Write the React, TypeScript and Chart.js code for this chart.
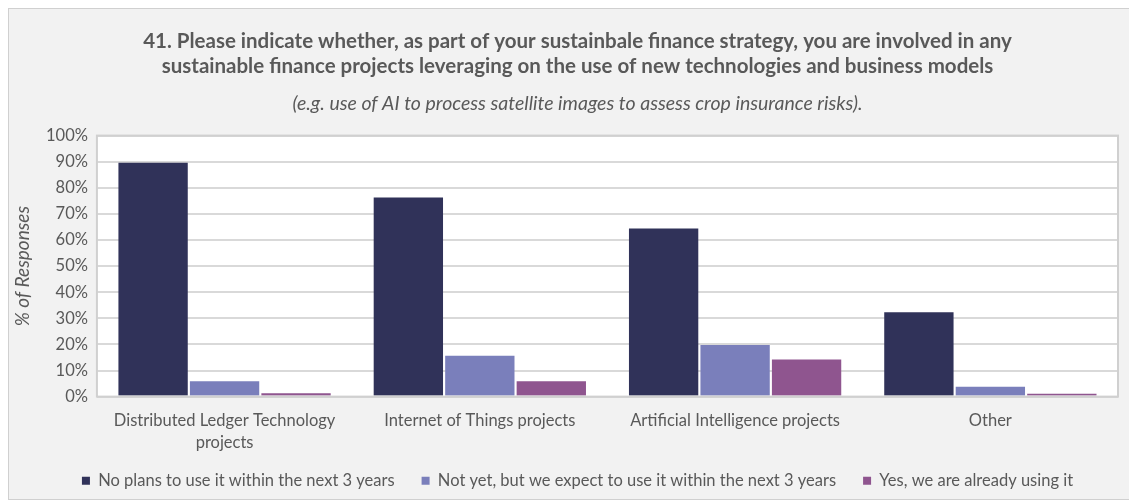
import React, { useEffect, useRef } from "react";
import { Chart, registerables } from "chart.js";
Chart.register(...registerables);

const categories: (string | string[])[] = [
  ["Distributed Ledger Technology", "projects"],
  "Internet of Things projects",
  "Artificial Intelligence projects",
  "Other",
];
const seriesNames = [
  "No plans to use it within the next 3 years",
  "Not yet, but we expect to use it within the next 3 years",
  "Yes, we are already using it",
];
const noPlans = [89.6, 76.3, 64.4, 32.3];
const notYet = [5.9, 15.7, 19.8, 3.8];
const alreadyUsing = [1.3, 5.9, 14.2, 1.1];
const seriesColors = ["#303259", "#7a7fbb", "#8f558f"];
const titleLines = [
  "41. Please indicate whether, as part of your sustainbale finance strategy, you are involved in any",
  "sustainable finance projects leveraging on the use of new technologies and business models",
];
const subtitleText = "(e.g. use of AI to process satellite images to assess crop insurance risks).";
const yTitle = "% of Responses";

const FONT = "Lato, 'Open Sans', sans-serif";
const TEXT = "#595959";

const plotBg = {
  id: "plotBg",
  beforeDraw(chart: any) {
    const { ctx, chartArea: a } = chart;
    // let the two-line category label spill below the (shortened) x axis box
    if (chart.scales.x) chart.scales.x._computeLabelArea = () => undefined;
    ctx.save();
    ctx.fillStyle = "#ffffff";
    ctx.fillRect(a.left, a.top, a.right - a.left, a.bottom - a.top);
    ctx.restore();
  },
  afterDraw(chart: any) {
    const { ctx, chartArea: a } = chart;
    ctx.save();
    ctx.strokeStyle = "#d0d0d0";
    ctx.lineWidth = 2;
    ctx.strokeRect(a.left, a.top, a.right - a.left, a.bottom - a.top);
    // y axis title, placed in the left margin
    ctx.translate(14, (a.top + a.bottom) / 2);
    ctx.rotate(-Math.PI / 2);
    ctx.fillStyle = TEXT;
    ctx.font = `italic 19px ${FONT}`;
    ctx.textAlign = "center";
    ctx.textBaseline = "middle";
    ctx.fillText(yTitle, 0, 0);
    ctx.restore();
  },
};

export default function App() {
  const ref = useRef<HTMLCanvasElement>(null);
  useEffect(() => {
    document.body.style.overflow = "hidden";
    if (!ref.current) return;
    const data = [noPlans, notYet, alreadyUsing];
    const chart = new Chart(ref.current, {
      type: "bar",
      data: {
        labels: categories,
        datasets: data.map((d, i) => ({
          label: seriesNames[i],
          data: d,
          backgroundColor: seriesColors[i],
          borderWidth: 0,
          categoryPercentage: 0.84,
          barPercentage: 0.97,
        })),
      },
      plugins: [plotBg],
      options: {
        animation: false,
        responsive: true,
        maintainAspectRatio: false,
        layout: { padding: { left: 28, right: 33, top: 0, bottom: 0 } },
        plugins: {
          title: {
            display: true,
            text: titleLines,
            color: TEXT,
            font: { family: FONT, size: 20.5, weight: "bold" },
            lineHeight: 1.4,
            padding: { top: 20, bottom: 14 },
          },
          subtitle: {
            display: true,
            text: subtitleText,
            color: TEXT,
            font: { family: FONT, size: 19.5, style: "italic" },
            padding: { bottom: 20 },
          },
          legend: {
            position: "bottom",
            labels: {
              color: TEXT,
              font: { family: FONT, size: 16.5 },
              boxWidth: 8,
              boxHeight: 8,
              padding: 27,
            },
          },
          tooltip: { enabled: false },
        },
        scales: {
          x: {
            grid: { display: false },
            border: { display: false },
            ticks: {
              color: TEXT,
              font: { family: FONT, size: 16.5, lineHeight: 1.33 },
              maxRotation: 0,
              padding: 5,
            },
            afterFit: (scale: any) => {
              scale.height -= 13;
            },
          },
          y: {
            min: 0,
            max: 100,
            ticks: {
              stepSize: 10,
              color: TEXT,
              font: { family: FONT, size: 16.5 },
              callback: (v: any) => v + "%",
              padding: 9,
            },
            grid: { color: "#d9d9d9", lineWidth: 2, drawTicks: false },
            border: { display: false },
          },
        },
      },
    } as any);
    return () => chart.destroy();
  }, []);
  return (
    <div
      style={{
        width: 1144,
        height: 492,
        background: "#f2f2f2",
        border: "1px solid #d0d0d0",
        boxSizing: "border-box",
      }}
    >
      <canvas ref={ref} />
    </div>
  );
}
